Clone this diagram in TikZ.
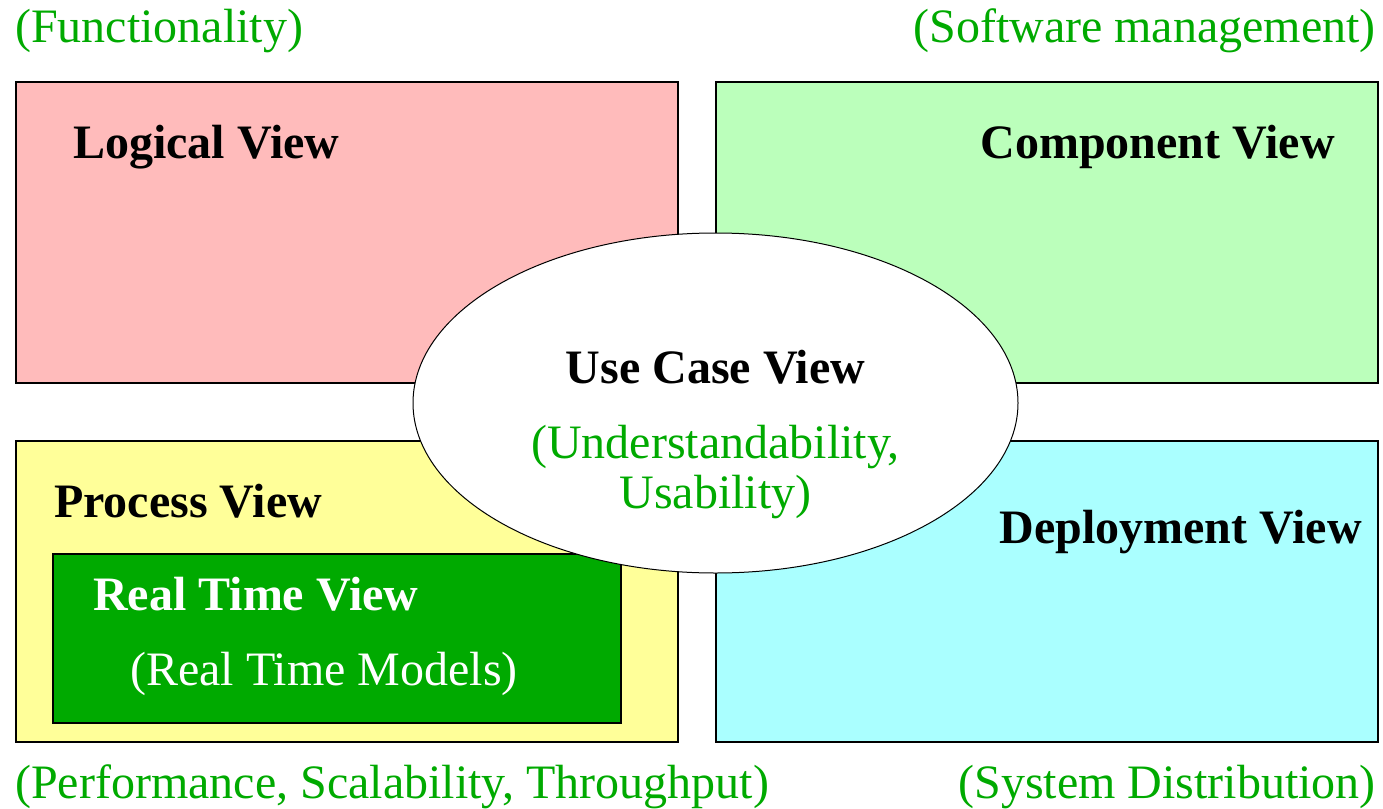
\documentclass[tikz,border=0pt]{standalone}
\usepackage{fontspec}
\setmainfont{Liberation Serif}
\usetikzlibrary{shapes.geometric}
\definecolor{pinkfill}{RGB}{255,187,187}
\definecolor{mintfill}{RGB}{187,255,187}
\definecolor{yellowfill}{RGB}{255,255,153}
\definecolor{cyanfill}{RGB}{170,255,255}
\definecolor{darkgreen}{RGB}{0,170,0}
\begin{document}
\begin{tikzpicture}[x=1pt,y=-1pt,
  viewbox/.style={draw=black,line width=2pt,rectangle,inner sep=0pt},
  title/.style={inner sep=0pt,font=\fontsize{48}{58}\selectfont\bfseries},
  note/.style={inner sep=0pt,font=\fontsize{48}{58}\selectfont,text=darkgreen}]
\useasboundingbox (0,0) rectangle (1383,808);
\fill[white] (0,0) rectangle (1383,808);

% the four quadrant views
\node[viewbox,fill=pinkfill,minimum width=662pt,minimum height=301pt] (logical) at (347,232.5) {};
\node[viewbox,fill=mintfill,minimum width=662pt,minimum height=301pt] (component) at (1047,232.5) {};
\node[viewbox,fill=yellowfill,minimum width=662pt,minimum height=301pt] (process) at (347,591.5) {};
\node[viewbox,fill=cyanfill,minimum width=662pt,minimum height=301pt] (deployment) at (1047,591.5) {};
\node[viewbox,fill=darkgreen,minimum width=568pt,minimum height=169pt] (realtime) at (337,638.5) {};

% central use case view
\node[ellipse,draw=black,line width=1pt,fill=white,minimum width=605pt,minimum height=340pt,inner sep=0pt] (usecase) at (715.5,403) {};

% view titles
\node[title,anchor=base west] (logicalT) at (73,158) {Logical View};
\node[title,anchor=base east] (componentT) at (1335,158) {Component View};
\node[title,anchor=base west] (processT) at (54,517) {Process View};
\node[title,anchor=base east] (deploymentT) at (1362,543) {Deployment View};
\node[title,anchor=base west,text=white] (realtimeT) at (93,610) {Real Time View};
\node[note,anchor=base west,text=white] (realtimeN) at (130,685) {(Real Time Models)};
\node[title,anchor=base] (usecaseT) at (715.5,383) {Use Case View};
\node[note,anchor=base] (usecaseN1) at (715.5,458) {(Understandability,};
\node[note,anchor=base] (usecaseN2) at (715.5,508) {Usability)};

% quality concerns around the views
\node[note,anchor=base west] (functionality) at (15,43) {(Functionality)};
\node[note,anchor=base east] (softwaremgmt) at (1376,43) {(Software management)};
\node[note,anchor=base west] (performance) at (15,798) {(Performance, Scalability, Throughput)};
\node[note,anchor=base east] (distribution) at (1376,798) {(System Distribution)};
\end{tikzpicture}
\end{document}
